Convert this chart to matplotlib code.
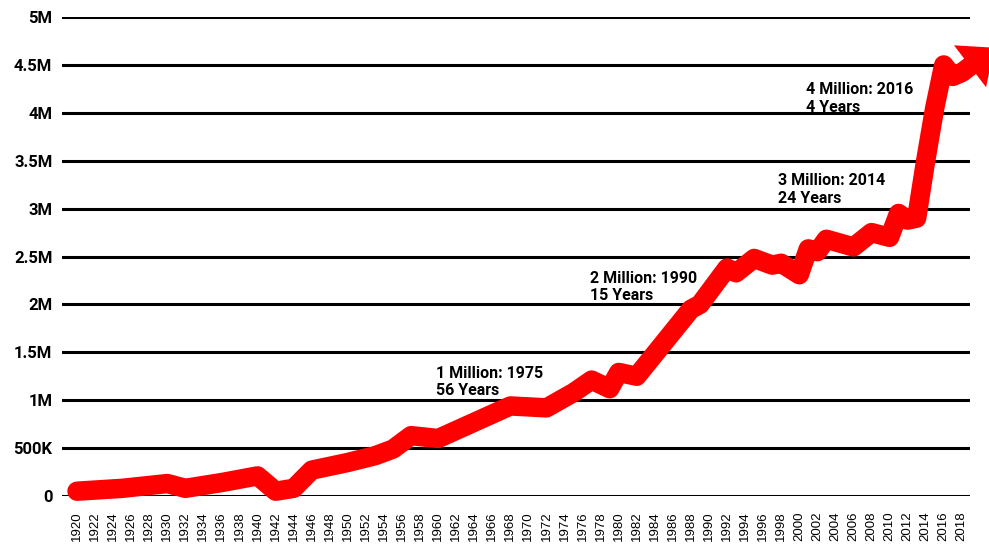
import matplotlib.pyplot as plt

# значения (миллионы)
years = [1920, 1925, 1930, 1932, 1936, 1940, 1942, 1944, 1946, 1948, 1950, 1953, 1955,
         1957, 1960, 1964, 1968, 1972, 1975, 1977, 1979, 1980, 1982, 1985, 1988, 1989,
         1992, 1993, 1995, 1997, 1998, 2000, 2001, 2002, 2003, 2006, 2008, 2010, 2011,
         2012, 2013, 2014, 2015, 2016, 2017, 2018]
values = [0.05, 0.08, 0.13, 0.08, 0.14, 0.21, 0.05, 0.08, 0.27, 0.31, 0.35, 0.42, 0.49,
          0.63, 0.60, 0.77, 0.94, 0.92, 1.08, 1.21, 1.12, 1.29, 1.25, 1.60, 1.95, 2.00,
          2.38, 2.33, 2.48, 2.41, 2.43, 2.31, 2.58, 2.55, 2.68, 2.60, 2.75, 2.70, 2.95,
          2.88, 2.90, 3.50, 4.05, 4.50, 4.38, 4.42]
values = [v * 1e6 for v in values]

arrow_tip = (2021.6, 4.68e6)

y_ticks = [0, 5e5, 1e6, 1.5e6, 2e6, 2.5e6, 3e6, 3.5e6, 4e6, 4.5e6, 5e6]
y_labels = ["0", "500K", "1M", "1.5M", "2M", "2.5M", "3M", "3.5M", "4M", "4.5M", "5M"]
x_ticks = list(range(1920, 2019, 2))

notes = ["1 Million: 1975\n56 Years", "2 Million: 1990\n15 Years",
         "3 Million: 2014\n24 Years", "4 Million: 2016\n4 Years"]
note_pos = [(1959.8, 1.36e6), (1976.8, 2.35e6), (1997.6, 3.37e6), (2000.8, 4.32e6)]

fig = plt.figure(figsize=(9.89, 5.48), dpi=100)
ax = fig.add_axes([0.0627, 0.0949, 0.918, 0.874])

ax.plot(years, values, color="#ff0000", lw=14, solid_capstyle="round",
        solid_joinstyle="round", clip_on=False, zorder=3)
# стрелка на конце линии
ax.annotate("", xy=arrow_tip, xytext=(years[-1], values[-1]),
            arrowprops=dict(arrowstyle="simple,head_length=1.1,head_width=1.9,tail_width=0.7",
                            mutation_scale=20, fc="#ff0000", ec="none", lw=0,
                            shrinkA=0, shrinkB=0),
            annotation_clip=False, zorder=3)

ax.set_xlim(1918.34, 2018.9)
ax.set_ylim(0, 5e6)
ax.set_yticks(y_ticks)
ax.set_yticklabels(y_labels, fontsize=12, fontweight="bold", family="Roboto")
ax.set_xticks(x_ticks)
ax.set_xticklabels([str(y) for y in x_ticks], rotation=90, fontsize=9.5,
                   family="Liberation Sans")
ax.tick_params(axis="both", length=0)
ax.tick_params(axis="y", pad=7)
ax.tick_params(axis="x", pad=11)
ax.grid(axis="y", color="black", lw=2.2, zorder=1)
ax.set_axisbelow(True)
for s in ax.spines.values():
    s.set_visible(False)

for txt, (x, y) in zip(notes, note_pos):
    ax.text(x, y, txt, fontsize=11.5, fontweight="bold", family="Roboto",
            va="top", ha="left", linespacing=1.2, zorder=4)

plt.savefig("out.png", dpi=100)
